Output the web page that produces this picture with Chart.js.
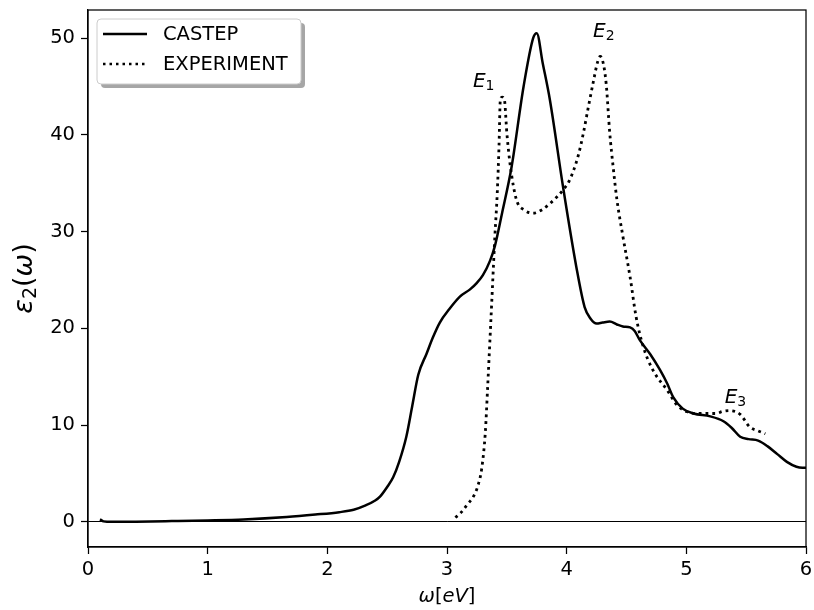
<!DOCTYPE html>
<html>
<head>
<meta charset="utf-8">
<script src="https://cdn.jsdelivr.net/npm/chart.js@4.4.0/dist/chart.umd.min.js"></script>
<style>
  html, body { margin: 0; padding: 0; background: #fff; }
  #wrap { width: 814px; height: 610px; }
</style>
</head>
<body>
<div id="wrap"><canvas id="chart" width="814" height="610"></canvas></div>
<script>
// photon energy [eV] and epsilon_2 values
const castepEnergy = [0.10, 0.13, 0.20, 0.40, 0.70, 1.00, 1.30, 1.66, 1.90, 2.10, 2.22, 2.32, 2.40, 2.44, 2.50, 2.55,
  2.60, 2.66, 2.71, 2.76, 2.83, 2.88, 2.94, 3.02, 3.11, 3.19, 3.25, 3.30, 3.36, 3.40, 3.46, 3.54, 3.64, 3.72, 3.75,
  3.80, 3.86, 3.97, 4.08, 4.15, 4.20, 4.25, 4.30, 4.36, 4.42, 4.47, 4.53, 4.57, 4.61, 4.70, 4.78, 4.84, 4.89, 4.97,
  5.06, 5.20, 5.31, 5.38, 5.45, 5.52, 5.60, 5.68, 5.76, 5.84, 5.92, 5.97, 6.00];
const castepEps2 = [0.25, 0.05, 0.00, 0.02, 0.08, 0.15, 0.25, 0.50, 0.75, 1.00, 1.25, 1.70, 2.20, 2.60, 3.60, 4.60,
  6.20, 8.80, 12.0, 15.2, 17.4, 19.0, 20.6, 22.0, 23.3, 24.0, 24.7, 25.5, 27.0, 28.5, 31.9, 36.7, 45.0, 50.0, 50.5,
  47.4, 43.6, 34.6, 26.4, 22.2, 21.0, 20.5, 20.6, 20.7, 20.4, 20.2, 20.1, 19.7, 18.8, 17.3, 15.7, 14.3, 12.9, 11.7,
  11.2, 10.9, 10.4, 9.7, 8.8, 8.55, 8.4, 7.8, 7.0, 6.2, 5.7, 5.6, 5.6];

const experimentEnergy = [3.07, 3.12, 3.17, 3.22, 3.26, 3.29, 3.32, 3.34, 3.36, 3.38, 3.40, 3.42, 3.435, 3.445, 3.46,
  3.48, 3.50, 3.53, 3.58, 3.65, 3.72, 3.80, 3.86, 3.92, 3.97, 4.02, 4.06, 4.10, 4.14, 4.18, 4.22, 4.26, 4.28, 4.30,
  4.33, 4.36, 4.39, 4.42, 4.47, 4.53, 4.58, 4.64, 4.72, 4.84, 4.92, 5.00, 5.10, 5.25, 5.30, 5.36, 5.45, 5.53, 5.60, 5.66];
const experimentEps2 = [0.45, 1.0, 1.8, 2.6, 3.8, 5.5, 9.2, 14.0, 19.1, 24.3, 29.5, 34.0, 39.0, 43.5, 43.9,
  43.6, 40.2, 36.7, 33.3, 32.2, 31.9, 32.3, 32.9, 33.6, 34.3, 35.2, 36.4, 38.0, 40.2, 42.8, 45.3, 47.6, 48.1, 47.7,
  45.3, 40.2, 36.5, 33.3, 29.5, 25.3, 21.2, 18.1, 15.7, 13.6, 12.1, 11.4, 11.2, 11.2, 11.4, 11.5, 11.1, 9.8, 9.4, 9.1];

const xTicks = [0, 1, 2, 3, 4, 5, 6];
const yTicks = [0, 10, 20, 30, 40, 50];

// peak labels: [letter, subscript, energy, eps2]
const peakLabels = [
  ['E', '1', 3.217, 44.9],
  ['E', '2', 4.22, 50.1],
  ['E', '3', 5.32, 12.3],
];

const FONT = "'DejaVu Sans'";

const toPoints = (xs, ys) => xs.map((x, i) => ({ x: x, y: ys[i] }));

// draws pieces of text one after another, each with its own style
const drawPieces = (ctx, pieces, x, y, align) => {
  const widths = pieces.map((p) => {
    ctx.font = p.font;
    return ctx.measureText(p.text).width;
  });
  const total = widths.reduce((a, b) => a + b, 0);
  let cx = align === 'center' ? x - total / 2 : x;
  ctx.textAlign = 'left';
  ctx.textBaseline = 'alphabetic';
  pieces.forEach((p, i) => {
    ctx.font = p.font;
    ctx.fillText(p.text, cx, y + (p.dy || 0));
    cx += widths[i];
  });
};

const decorPlugin = {
  id: 'decor',
  afterDraw(chart) {
    const ctx = chart.ctx;
    const area = chart.chartArea;
    const xs = chart.scales.x;
    const ys = chart.scales.y;
    ctx.save();
    ctx.fillStyle = '#000';
    ctx.strokeStyle = '#000';

    // frame
    ctx.lineWidth = 1.25;
    ctx.strokeRect(area.left, area.top, area.right - area.left, area.bottom - area.top);

    // peak labels
    peakLabels.forEach(([letter, sub, ex, ey]) => {
      drawPieces(ctx, [
        { text: letter, font: 'italic 20px ' + FONT },
        { text: sub, font: '14px ' + FONT, dy: 3 },
      ], xs.getPixelForValue(ex), ys.getPixelForValue(ey), 'left');
    });

    // legend with shadow
    const lx = 97, ly = 19, lw = 204, lh = 65;
    ctx.fillStyle = 'rgba(0,0,0,0.35)';
    ctx.beginPath();
    ctx.roundRect(lx + 4, ly + 4, lw, lh, 4);
    ctx.fill();
    ctx.fillStyle = '#fff';
    ctx.strokeStyle = '#ccc';
    ctx.lineWidth = 1;
    ctx.beginPath();
    ctx.roundRect(lx, ly, lw, lh, 4);
    ctx.fill();
    ctx.stroke();

    ctx.strokeStyle = '#000';
    ctx.lineWidth = 2.5;
    ctx.beginPath();
    ctx.moveTo(103, 34);
    ctx.lineTo(147, 34);
    ctx.stroke();
    ctx.setLineDash([2.5, 4]);
    ctx.beginPath();
    ctx.moveTo(103, 64);
    ctx.lineTo(147, 64);
    ctx.stroke();
    ctx.setLineDash([]);

    ctx.fillStyle = '#000';
    ctx.font = '19.5px ' + FONT;
    ctx.textAlign = 'left';
    ctx.textBaseline = 'middle';
    ctx.fillText('CASTEP', 163, 35);
    ctx.fillText('EXPERIMENT', 163, 65);

    // x axis title
    drawPieces(ctx, [
      { text: 'ω', font: 'italic 19.5px ' + FONT },
      { text: '[', font: '19.5px ' + FONT },
      { text: 'eV', font: 'italic 19.5px ' + FONT },
      { text: ']', font: '19.5px ' + FONT },
    ], (area.left + area.right) / 2, 602, 'center');

    // y axis title
    ctx.translate(31.5, (area.top + area.bottom) / 2);
    ctx.rotate(-Math.PI / 2);
    drawPieces(ctx, [
      { text: 'ε', font: 'italic 27px ' + FONT },
      { text: '2', font: '19px ' + FONT, dy: 4 },
      { text: '(', font: '27px ' + FONT },
      { text: 'ω', font: 'italic 27px ' + FONT },
      { text: ')', font: '27px ' + FONT },
    ], 0, 0, 'center');

    ctx.restore();
  },
};

const initializeChart = () => {
  Chart.defaults.font.family = FONT;
  Chart.defaults.color = '#000';

  new Chart(document.querySelector('#chart'), {
    type: 'line',
    data: {
      datasets: [
        {
          label: 'CASTEP',
          data: toPoints(castepEnergy, castepEps2),
          borderColor: '#000',
          borderWidth: 2.5,
          cubicInterpolationMode: 'monotone',
          pointRadius: 0,
        },
        {
          label: 'EXPERIMENT',
          data: toPoints(experimentEnergy, experimentEps2),
          borderColor: '#000',
          borderWidth: 2.8,
          borderDash: [2.8, 4],
          cubicInterpolationMode: 'monotone',
          pointRadius: 0,
        },
      ],
    },
    options: {
      responsive: false,
      animation: false,
      layout: { padding: { top: 10, right: 8, left: 0, bottom: 0 } },
      plugins: {
        legend: { display: false },
        tooltip: { enabled: false },
      },
      scales: {
        x: {
          type: 'linear',
          min: 0,
          max: 6,
          afterBuildTicks: (scale) => {
            scale.ticks = xTicks.map((v) => ({ value: v }));
          },
          afterFit: (scale) => {
            scale.height = 63;
            scale.paddingLeft = 0;
            scale.paddingRight = 0;
          },
          ticks: { font: { size: 19.5 }, padding: 4, maxRotation: 0 },
          grid: { drawOnChartArea: false, tickLength: 7, tickColor: '#000', tickWidth: 1.25 },
          border: { color: '#000', width: 1.25 },
        },
        y: {
          type: 'linear',
          min: -2.6,
          max: 52.9,
          afterBuildTicks: (scale) => {
            scale.ticks = yTicks.map((v) => ({ value: v }));
          },
          afterFit: (scale) => {
            scale.width = 88;
            scale.paddingTop = 0;
            scale.paddingBottom = 0;
          },
          ticks: { font: { size: 19.5 }, padding: 6 },
          grid: {
            color: (context) => (context.tick && context.tick.value === 0 ? '#000' : 'rgba(0,0,0,0)'),
            lineWidth: 1,
            tickLength: 7,
            tickColor: '#000',
            tickWidth: 1.25,
          },
          border: { color: '#000', width: 1.25 },
        },
      },
    },
    plugins: [decorPlugin],
  });
};

document.addEventListener('DOMContentLoaded', initializeChart);
</script>
</body>
</html>
